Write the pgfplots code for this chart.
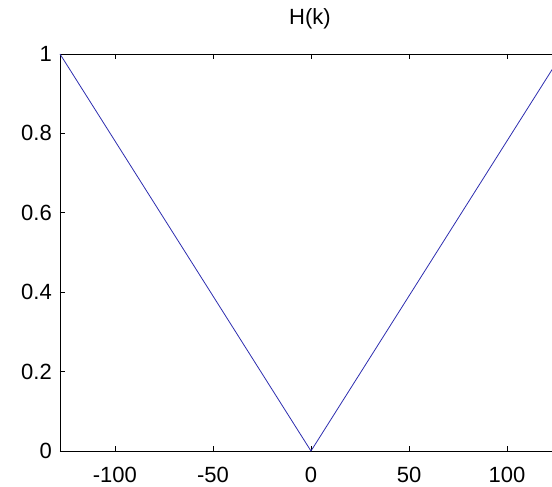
\documentclass[border=0pt]{standalone}
\usepackage{fontspec}
\setmainfont{Liberation Sans}
\usepackage{pgfplots}
\pgfplotsset{compat=1.18}
\definecolor{lineblue}{RGB}{45,45,175}
\begin{document}
\begin{tikzpicture}[x=1pt,y=1pt]
\begin{axis}[at={(60pt,36pt)}, anchor=south west,
  width=500pt, height=397pt, scale only axis,
  xmin=-128, xmax=127, ymin=0, ymax=1,
  xtick={-100,-50,0,50,100}, xticklabels={-100,-50,0,50,100},
  ytick={0,0.2,0.4,0.6,0.8,1}, yticklabels={0,0.2,0.4,0.6,0.8,1},
  tick align=inside, major tick length=5pt,
  tick style={black, line width=0.8pt},
  axis line style={line width=0.9pt, black},
  ticklabel style={font=\fontsize{22}{26}\selectfont, inner sep=0pt},
  /pgf/number format/assume math mode=true,
  xticklabel style={anchor=base, yshift=-32pt},
  yticklabel style={anchor=east, xshift=-8pt},
  title={H(k)},
  title style={font=\fontsize{22}{26}\selectfont, at={(0.5,1)}, anchor=base, yshift=23pt, inner sep=0pt},
  clip=false]
\addplot[lineblue, line width=0.8pt] coordinates {(-128,1) (0,0) (127,0.9921875)};
\end{axis}
\pgfresetboundingbox
\path (0,0) rectangle (552,487);
\end{tikzpicture}
\end{document}
